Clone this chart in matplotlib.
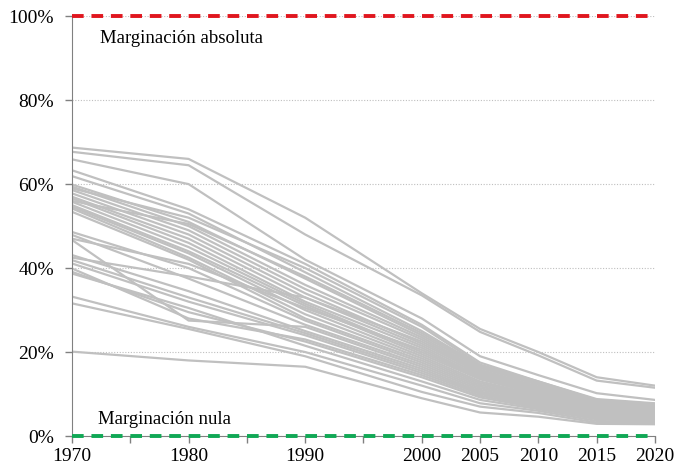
import matplotlib.pyplot as plt

plt.rcParams["font.family"] = ["Liberation Serif", "DejaVu Serif"]

# category axis: 1970..2020 every 5 years, data only on some of them
categories = ["1970", "1975", "1980", "1985", "1990", "1995",
              "2000", "2005", "2010", "2015", "2020"]
years = ["1970", "1980", "1990", "2000", "2005", "2010", "2015", "2020"]

# marginacion index per state (%)
series = [
    [68.7, 66.0, 52.0, 34.0, 25.5, 20.0, 14.0, 12.0],
    [67.7, 64.5, 48.0, 33.5, 24.8, 19.2, 13.2, 11.5],
    [65.9, 60.0, 42.0, 28.0, 19.0, 14.5, 10.2, 8.6],
    [63.3, 54.0, 41.0, 26.5, 17.5, 13.0, 8.8, 7.8],
    [61.9, 53.0, 39.0, 25.0, 16.8, 12.6, 8.5, 7.5],
    [59.9, 51.0, 37.5, 24.0, 16.2, 12.2, 8.2, 7.2],
    [59.4, 50.0, 36.0, 23.5, 15.8, 11.8, 8.0, 7.0],
    [58.6, 49.0, 35.0, 23.0, 15.5, 11.5, 7.8, 6.8],
    [57.8, 48.0, 34.0, 22.0, 15.0, 11.0, 7.5, 6.6],
    [57.0, 47.0, 33.0, 21.5, 14.6, 10.8, 7.3, 6.4],
    [56.6, 46.0, 32.0, 21.0, 14.2, 10.5, 7.1, 6.2],
    [55.8, 45.0, 31.5, 20.0, 13.8, 10.2, 6.9, 6.0],
    [55.0, 44.0, 31.0, 19.5, 13.5, 10.0, 6.7, 5.8],
    [54.6, 43.5, 30.0, 19.0, 13.0, 9.7, 6.5, 5.6],
    [54.2, 42.5, 29.0, 18.5, 12.6, 9.4, 6.3, 5.4],
    [53.4, 42.0, 28.0, 18.0, 12.2, 9.1, 6.1, 5.2],
    [48.6, 40.0, 27.5, 17.5, 11.8, 8.8, 5.9, 5.0],
    [47.9, 37.5, 26.5, 17.0, 11.4, 8.5, 5.7, 4.8],
    [46.7, 27.5, 26.0, 16.5, 11.0, 8.2, 5.5, 4.6],
    [43.1, 34.5, 25.0, 16.0, 10.6, 7.9, 5.3, 4.4],
    [41.9, 33.0, 24.5, 15.5, 10.3, 7.6, 5.1, 4.2],
    [41.1, 32.0, 24.0, 15.0, 10.0, 7.3, 4.9, 4.0],
    [39.9, 28.0, 23.0, 14.5, 9.6, 7.0, 4.6, 3.8],
    [39.1, 29.5, 22.5, 14.0, 9.2, 6.7, 4.3, 3.6],
    [38.7, 30.5, 21.5, 13.0, 8.6, 6.4, 4.0, 3.4],
    [33.2, 26.0, 20.0, 12.0, 7.8, 6.0, 3.6, 3.2],
    [31.6, 25.5, 19.0, 10.5, 7.0, 5.5, 3.2, 3.0],
    [20.1, 18.0, 16.5, 9.0, 5.6, 4.6, 2.9, 2.8],
    [59.0, 52.0, 40.0, 26.0, 17.0, 13.0, 8.6, 7.6],
    [56.0, 50.5, 38.0, 24.5, 16.5, 12.4, 8.3, 7.3],
    [47.0, 41.0, 30.5, 20.5, 14.0, 10.3, 7.0, 6.2],
    [42.5, 38.0, 33.0, 22.5, 15.2, 11.2, 7.6, 6.8],
]

xpos = [categories.index(y) for y in years]

fig = plt.figure(figsize=(6.87, 4.76), dpi=100)
ax = fig.add_axes([0.1048, 0.084, 0.8486, 0.882])

for s in series:
    ax.plot(xpos, [v / 100 for v in s], color="#C0C0C0", lw=1.6, zorder=2)

# reference lines
ax.axhline(1.0, color="#E0161E", lw=2.8, dashes=(3, 2), zorder=4, clip_on=False)
ax.axhline(0.0, color="#10A855", lw=2.8, dashes=(3, 2), zorder=4, clip_on=False)

ax.text(0.48, 0.937, "Marginación absoluta", fontsize=13.5, va="baseline")
ax.text(0.45, 0.028, "Marginación nula", fontsize=13.5, va="baseline")

ax.set_xlim(0, 10)
ax.set_ylim(0, 1)
ax.set_xticks(range(len(categories)))
ax.set_xticklabels([c if c in years else "" for c in categories], fontsize=14)
ax.set_yticks([0, 0.2, 0.4, 0.6, 0.8, 1.0])
ax.set_yticklabels(["0%", "20%", "40%", "60%", "80%", "100%"], fontsize=14)
ax.tick_params(colors="#808080", labelcolor="black", length=5, width=1)
ax.tick_params(axis="y", pad=8)

ax.grid(axis="y", color="#BFBFBF", ls=(0, (1, 1.5)), lw=0.8)
ax.set_axisbelow(True)

for side in ["top", "right"]:
    ax.spines[side].set_visible(False)
ax.spines["left"].set_color("#808080")
ax.spines["bottom"].set_color("#808080")

fig.savefig("out.png", dpi=100)
